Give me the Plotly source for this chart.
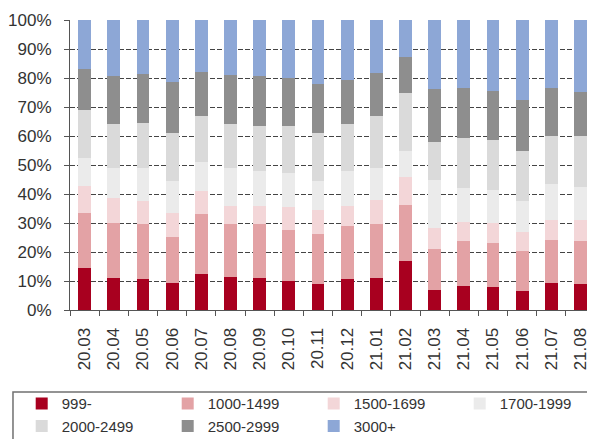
import plotly.graph_objects as go

months = ["20.03", "20.04", "20.05", "20.06", "20.07", "20.08", "20.09", "20.10", "20.11",
          "20.12", "21.01", "21.02", "21.03", "21.04", "21.05", "21.06", "21.07", "21.08"]

# share of sales by price band, %
p999 = [14.5, 11.2, 10.6, 9.2, 12.3, 11.5, 11.1, 10.0, 8.9, 10.7, 11.2, 16.8, 6.9, 8.4, 7.8, 6.6, 9.2, 8.9]
p1000 = [19.0, 18.8, 19.1, 16.0, 20.7, 18.1, 18.5, 17.7, 17.3, 18.2, 18.4, 19.4, 14.2, 15.5, 15.2, 13.6, 15.1, 15.0]
p1500 = [9.3, 8.5, 7.8, 8.3, 8.0, 6.4, 6.4, 7.9, 8.3, 6.9, 8.4, 9.8, 7.1, 6.4, 7.0, 6.8, 6.7, 7.1]
p1700 = [9.7, 10.5, 11.5, 11.0, 10.0, 13.0, 12.0, 11.7, 10.0, 12.2, 11.0, 9.0, 16.8, 11.8, 11.5, 10.5, 12.5, 11.5]
p2000 = [16.5, 15.0, 15.4, 16.7, 16.0, 15.2, 15.6, 16.0, 16.5, 16.2, 18.0, 19.7, 12.8, 17.1, 17.0, 17.2, 16.5, 17.5]
p2500 = [14.0, 16.6, 16.9, 17.4, 15.0, 16.8, 17.2, 16.7, 17.0, 15.0, 14.6, 12.6, 18.3, 17.3, 17.0, 17.7, 16.5, 15.3]
p3000 = [17.0, 19.4, 18.7, 21.4, 18.0, 19.0, 19.2, 20.0, 22.0, 20.8, 18.4, 12.7, 23.9, 23.5, 24.5, 27.6, 23.5, 24.7]

bands = ["999-", "1000-1499", "1500-1699", "1700-1999", "2000-2499", "2500-2999", "3000+"]
series = [p999, p1000, p1500, p1700, p2000, p2500, p3000]
colors = ["#A8001F", "#E3A2A5", "#F3D6D8", "#EBEBEB", "#DADADA", "#8E8E8E", "#8DA7D6"]

fig = go.Figure()
for name, vals, col in zip(bands, series, colors):
    fig.add_trace(go.Bar(x=months, y=vals, name=name, marker_color=col, marker_line_width=0))

# page body adds an 8px margin, so the figure is 8px smaller than the window
fig.update_layout(
    barmode="stack", barnorm="percent", bargap=0.56,
    width=587, height=431,
    margin=dict(l=62, r=0, t=12, b=129, autoexpand=False),
    paper_bgcolor="white", plot_bgcolor="white",
    font=dict(family="Liberation Sans, Arial, sans-serif", color="#333333"),
    legend=dict(orientation="h", x=-0.092, xanchor="left", y=-0.266, yanchor="top",
                font=dict(size=15), entrywidth=101, entrywidthmode="pixels",
                traceorder="normal", itemwidth=30, bgcolor="rgba(0,0,0,0)"),
    # legend frame, running off the right and bottom edges as in the source image
    shapes=[dict(type="rect", xref="paper", yref="paper", x0=-0.1086, x1=1.05,
                 y0=-0.283, y1=-0.6, line=dict(color="#707070", width=1.5))],
)
fig.update_xaxes(type="category", tickangle=-90, tickfont=dict(size=17),
                 showline=True, linecolor="#555555", ticks="outside", tickson="boundaries",
                 ticklen=5, tickcolor="#555555", ticklabelstandoff=10)
fig.update_yaxes(range=[0, 100], dtick=10, ticksuffix="%", tickfont=dict(size=17),
                 showline=True, linecolor="#555555", ticks="outside", ticklen=5,
                 tickcolor="#555555", showgrid=True, gridcolor="#444444",
                 griddash="5px,2px", gridwidth=1, zeroline=False, ticklabelstandoff=9)

fig.write_html("out.html")
